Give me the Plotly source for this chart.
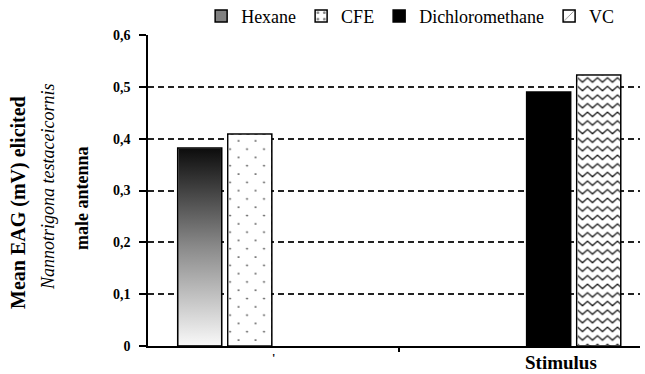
import base64
import plotly.graph_objects as go

# Stimulus groups (positions on the x axis) and the four tested extracts
groups = ["Solvents", "Stimulus"]
series = ["Hexane", "CFE", "Dichloromethane", "VC"]
series_group = [0, 0, 1, 1]          # index into groups
series_slot = ["a", "b", "a", "b"]   # side-by-side slot inside a group
values = [0.382, 0.409, 0.490, 0.523]

y_ticks = [0, 0.1, 0.2, 0.3, 0.4, 0.5, 0.6]
y_tick_text = ["0", "0,1", "0,2", "0,3", "0,4", "0,5", "0,6"]

W, H = 645, 374
M = dict(l=148, r=5, t=35, b=28)
X_RANGE = [-0.22, 1.19]
Y_RANGE = [0, 0.6]
BARGAP, BARGROUPGAP = 0.713, 0.12
SERIF = "Liberation Serif"

plot_w = W - M["l"] - M["r"]
plot_h = H - M["t"] - M["b"]
px_x = plot_w / (X_RANGE[1] - X_RANGE[0])
px_y = plot_h / (Y_RANGE[1] - Y_RANGE[0])

fills = {
    "Hexane": dict(color="#808080"),
    "CFE": dict(color="white", pattern=dict(shape=".", fgcolor="black", bgcolor="white",
                                            size=8, solidity=0.15)),
    "Dichloromethane": dict(color="black"),
    "VC": dict(color="white", pattern=dict(shape="/", fgcolor="black", bgcolor="white",
                                           size=14, solidity=0.1)),
}

fig = go.Figure()
for name, g, slot, v in zip(series, series_group, series_slot, values):
    fig.add_trace(go.Bar(
        name=name, x=[g], y=[v], offsetgroup=slot,
        marker=dict(**fills[name], line=dict(color="black", width=1.5)),
        hoverinfo="name+y",
    ))


def bar_box(group, slot, value):
    """Bar rectangle in data units, following plotly's grouped-bar layout."""
    group_w = 1 - BARGAP
    slot_w = group_w / 2
    k = 0 if slot == "a" else 1
    left = group - group_w / 2 + k * slot_w + slot_w * BARGROUPGAP / 2
    return left, slot_w * (1 - BARGROUPGAP), value


def svg_uri(svg):
    return "data:image/svg+xml;base64," + base64.b64encode(svg.encode()).decode()


def svg_frame(w, h, defs, body):
    return (f'<svg xmlns="http://www.w3.org/2000/svg" width="{w:.1f}" height="{h:.1f}" '
            f'viewBox="0 0 {w:.1f} {h:.1f}" preserveAspectRatio="none">'
            f'<defs>{defs}</defs>{body}</svg>')


def gradient_svg(w, h):
    defs = ('<linearGradient id="g" x1="0" y1="0" x2="0" y2="1">'
            '<stop offset="0" stop-color="#0d0d0d"/><stop offset="0.5" stop-color="#8a8a8a"/>'
            '<stop offset="1" stop-color="#f8f8f8"/></linearGradient>')
    return svg_frame(w, h, defs, f'<rect width="{w:.1f}" height="{h:.1f}" fill="url(#g)"/>')


def dots_svg(w, h):
    defs = ('<pattern id="d" x="1" y="4" width="17" height="16.6" patternUnits="userSpaceOnUse">'
            '<circle cx="9" cy="2" r="0.9" fill="#333"/>'
            '<circle cx="0.5" cy="10.3" r="0.9" fill="#333"/>'
            '<circle cx="17.5" cy="10.3" r="0.9" fill="#333"/></pattern>')
    body = (f'<rect width="{w:.1f}" height="{h:.1f}" fill="white"/>'
            f'<rect width="{w:.1f}" height="{h:.1f}" fill="url(#d)"/>')
    return svg_frame(w, h, defs, body)


def zigzag_svg(w, h):
    defs = ('<pattern id="z" width="10" height="8.6" patternUnits="userSpaceOnUse">'
            '<polyline points="-0.5,1.6 5,6.4 10.5,1.6" fill="none" stroke="#1a1a1a" '
            'stroke-width="1.4"/></pattern>')
    body = (f'<rect width="{w:.1f}" height="{h:.1f}" fill="white"/>'
            f'<rect width="{w:.1f}" height="{h:.1f}" fill="url(#z)"/>')
    return svg_frame(w, h, defs, body)


# Textured fills (gradient, dots, zigzag) laid over the bar interiors
inset = 0.8
textures = {"Hexane": gradient_svg, "CFE": dots_svg, "VC": zigzag_svg}
images = []
for name, g, slot, v in zip(series, series_group, series_slot, values):
    if name not in textures:
        continue
    left, width, top = bar_box(g, slot, v)
    sx = width - 2 * inset / px_x
    sy = top - 2 * inset / px_y
    images.append(dict(
        source=svg_uri(textures[name](sx * px_x, sy * px_y)),
        xref="x", yref="y", x=left + inset / px_x, y=top - inset / px_y,
        sizex=sx, sizey=sy, xanchor="left", yanchor="top",
        sizing="stretch", layer="above",
    ))

fig.update_layout(
    width=W, height=H, margin=dict(**M, autoexpand=False),
    paper_bgcolor="white", plot_bgcolor="white",
    barmode="group", bargap=BARGAP, bargroupgap=BARGROUPGAP,
    images=images,
    font=dict(family=SERIF, color="black"),
    showlegend=True,
    legend=dict(orientation="h", x=0.108, y=1.12, xanchor="left", yanchor="top",
                font=dict(family=SERIF, size=18, color="black"),
                bgcolor="rgba(0,0,0,0)", traceorder="normal", itemclick=False),
    xaxis=dict(range=X_RANGE, showline=True, linecolor="black", linewidth=1.5,
               ticks="outside", ticklen=4, tickwidth=1.5, tickcolor="black",
               tickvals=[0.5], showticklabels=False, showgrid=False, zeroline=False),
    yaxis=dict(range=Y_RANGE, showline=True, linecolor="black", linewidth=1.5,
               ticks="outside", ticklen=7, tickwidth=1.5, tickcolor="black",
               tickvals=y_ticks, ticktext=y_tick_text, ticklabelstandoff=6,
               tickfont=dict(family=SERIF, size=14, weight="bold", color="black"),
               showgrid=True, gridcolor="#222", gridwidth=2, griddash="6px,4px",
               zeroline=False),
)

y_title = [
    ("Mean EAG (mV) elicited", 19, 203, dict(size=20, weight="bold")),
    ("Nannotrigona testaceicornis", 48, 187, dict(size=18, style="italic")),
    ("male antenna", 82, 198, dict(size=18, weight="bold")),
]
for text, px, py, f in y_title:
    fig.add_annotation(text=text, xref="paper", yref="paper",
                       x=(px - M["l"]) / plot_w, y=(H - M["b"] - py) / plot_h,
                       xanchor="center", yanchor="middle", textangle=-90, showarrow=False,
                       font=dict(family=SERIF, color="black", **f))

fig.add_annotation(text="Stimulus", xref="paper", yref="paper",
                   x=(561 - M["l"]) / plot_w, y=(H - M["b"] - 362) / plot_h,
                   xanchor="center", yanchor="middle", showarrow=False,
                   font=dict(family=SERIF, size=19, weight="bold", color="black"))
fig.add_annotation(text="'", xref="paper", yref="paper",
                   x=(273 - M["l"]) / plot_w, y=(H - M["b"] - 358) / plot_h,
                   xanchor="center", yanchor="middle", showarrow=False,
                   font=dict(family=SERIF, size=12, weight="bold", color="black"))

fig.write_html("out.html")
